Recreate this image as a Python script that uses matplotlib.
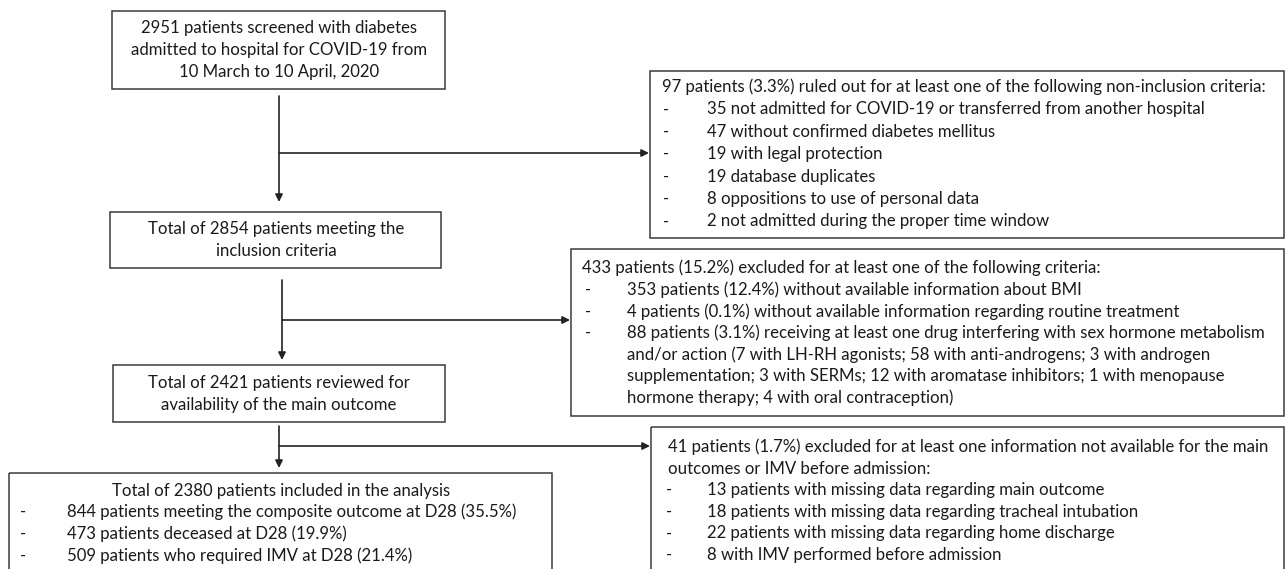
import matplotlib
matplotlib.use("Agg")
import matplotlib.pyplot as plt
from matplotlib.patches import Rectangle

plt.rcParams["font.family"] = ["Lato", "DejaVu Sans"]

# ---- flowchart content -------------------------------------------------
screened_lines = ["2951 patients screened with diabetes",
                  "admitted to hospital for COVID-19 from",
                  "10 March to 10 April, 2020"]
inclusion_lines = ["Total of 2854 patients meeting the",
                   "inclusion criteria"]
reviewed_lines = ["Total of 2421 patients reviewed for",
                  "availability of the main outcome"]
analysis_title = "Total of 2380 patients included in the analysis"
analysis_items = ["844 patients meeting the composite outcome at D28 (35.5%)",
                  "473 patients deceased at D28 (19.9%)",
                  "509 patients who required IMV at D28 (21.4%)"]

nonincl_header = ["97 patients (3.3%) ruled out for at least one of the following non-inclusion criteria:"]
nonincl_items = [["35 not admitted for COVID-19 or transferred from another hospital"],
                 ["47 without confirmed diabetes mellitus"],
                 ["19 with legal protection"],
                 ["19 database duplicates"],
                 ["8 oppositions to use of personal data"],
                 ["2 not admitted during the proper time window"]]

excl_header = ["433 patients (15.2%) excluded for at least one of the following criteria:"]
excl_items = [["353 patients (12.4%) without available information about BMI"],
              ["4 patients (0.1%) without available information regarding routine treatment"],
              ["88 patients (3.1%) receiving at least one drug interfering with sex hormone metabolism",
               "and/or action (7 with LH-RH agonists; 58 with anti-androgens; 3 with androgen",
               "supplementation; 3 with SERMs; 12 with aromatase inhibitors; 1 with menopause",
               "hormone therapy; 4 with oral contraception)"]]

missing_header = ["41 patients (1.7%) excluded for at least one information not available for the main",
                  "outcomes or IMV before admission:"]
missing_items = [["13 patients with missing data regarding main outcome"],
                 ["18 patients with missing data regarding tracheal intubation"],
                 ["22 patients with missing data regarding home discharge"],
                 ["8 with IMV performed before admission"]]

FS = 12.1
EDGE = "#3a3a3a"
TXT = "#1a1a1a"

fig = plt.figure(figsize=(12.87, 5.69), dpi=100)
ax = fig.add_axes([0, 0, 1, 1])
ax.set_xlim(0, 1287)
ax.set_ylim(569, 0)
ax.axis("off")


def box(x0, y0, x1, y1):
    ax.add_patch(Rectangle((x0, y0), x1 - x0, y1 - y0, fill=False,
                           edgecolor=EDGE, lw=1.1))


def centred(lines, cx, y0, step):
    for i, s in enumerate(lines):
        ax.text(cx, y0 + i * step, s, ha="center", va="center",
                fontsize=FS, color=TXT)


def bullets(header, items, xh, xd, xt, y0, step):
    y = y0
    for s in header:
        ax.text(xh, y, s, ha="left", va="center", fontsize=FS, color=TXT)
        y += step
    for item in items:
        ax.text(xd, y, "-", ha="left", va="center", fontsize=FS, color=TXT)
        for s in item:
            ax.text(xt, y, s, ha="left", va="center", fontsize=FS, color=TXT)
            y += step


def arrow(x0, y0, x1, y1):
    ax.annotate("", xy=(x1, y1), xytext=(x0, y0),
                arrowprops=dict(arrowstyle="-|>", color="#222222", lw=1.2,
                                mutation_scale=11, shrinkA=0, shrinkB=0))


# main column
box(112, 11, 445, 89)
centred(screened_lines, 279, 28, 22)
box(110, 212, 441, 268)
centred(inclusion_lines, 276, 229, 22)
box(113, 365, 445, 422)
centred(reviewed_lines, 279, 383, 21.5)
box(9, 473, 552, 600)
centred([analysis_title], 281, 491, 21.7)
bullets([], [[s] for s in analysis_items], 0, 20, 67, 512, 21.7)

# side boxes
box(650, 71, 1284, 238)
bullets(nonincl_header, nonincl_items, 662, 663, 707, 87, 22.4)
box(571, 249, 1284, 416)
bullets(excl_header, excl_items, 582, 585, 627, 268, 21.7)
box(651, 427, 1284, 600)
bullets(missing_header, missing_items, 668, 666, 707, 447, 21.6)

# arrows
arrow(279, 96, 279, 202)
arrow(279, 153, 649, 153)
arrow(282, 280, 282, 360)
arrow(282, 320, 570, 320)
arrow(279, 426, 279, 468)
arrow(279, 446, 650, 446)

fig.savefig("out.png", dpi=100)
